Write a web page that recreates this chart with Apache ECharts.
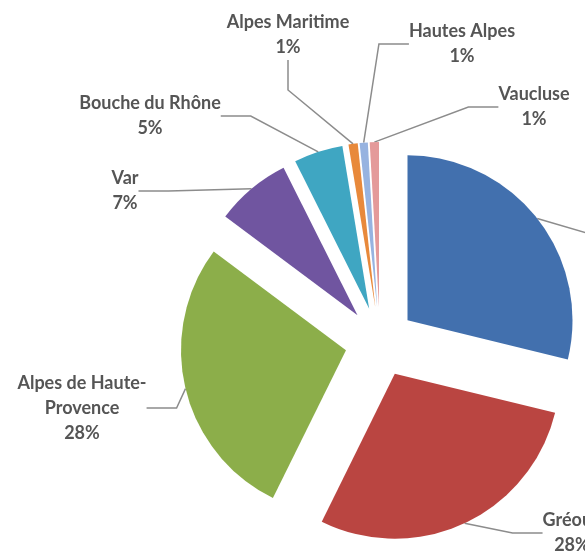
<!DOCTYPE html>
<html><head><meta charset="utf-8">
<script src="https://cdn.jsdelivr.net/npm/echarts@6/dist/echarts.min.js"></script>
<style>html,body{margin:0;padding:0;background:#fff;overflow:hidden}#c{width:585px;height:553px}</style>
</head><body><div id="c"></div>
<script>
// Slices clockwise from 12 o'clock (blue slice's label lies outside the picture)
const categories = ['Autres', 'Gréoux', 'Alpes de Haute-Provence', 'Var', 'Bouche du Rhône', 'Alpes Maritime', 'Hautes Alpes', 'Vaucluse'];
const values = [28.8, 28.5, 27.9, 7.4, 4.8, 0.9, 0.8, 0.9];
const colors = ['#4270AE', '#BA4541', '#8CAE4A', '#7055A0', '#3FA6C2', '#E8893B', '#97B3E0', '#E49A9A'];
// label centres (text only)
const labelAnchors = [[650, 235], [572, 533], [82, 408], [125, 191], [150, 116], [288, 35], [462, 44], [534, 107]];

const pieCenter = [380, 342];
const pieRadius = 165;
const explode = 35;

const total = values.reduce((a, b) => a + b, 0);
let acc = 0;
const series = categories.map((name, i) => {
  const start = 90 - acc / total * 360;
  const mid = (start - values[i] / total * 180) * Math.PI / 180;
  acc += values[i];
  const c = [pieCenter[0] + explode * Math.cos(mid), pieCenter[1] - explode * Math.sin(mid)];
  return {
    type: 'pie',
    silent: true,
    center: c,
    radius: pieRadius,
    startAngle: 90,
    clockwise: true,
    percentPrecision: 0,
    avoidLabelOverlap: false,
    emphasis: {disabled: true},
    itemStyle: {borderWidth: 0},
    data: categories.map((n, j) => ({
      name: n,
      value: values[j],
      itemStyle: {color: j === i ? colors[j] : 'rgba(0,0,0,0)'},
      label: {show: j === i},
      labelLine: {show: j === i}
    })),
    label: {
      fontFamily: 'Lato',
      fontWeight: 'bold',
      fontSize: 18,
      lineHeight: 25,
      color: '#555555',
      align: 'center',
      formatter: p => (p.name.length > 16 ? p.name.replace('-', '-\n') : p.name) + '\n' + p.percent + '%'
    },
    labelLine: {lineStyle: {color: '#8c8c8c', width: 1.5}},
    labelLayout: function (params) {
      const a = labelAnchors[params.dataIndex];
      return {x: a[0], y: a[1], align: 'center', verticalAlign: 'middle'};
    }
  };
});

const chart = echarts.init(document.getElementById('c'), null, {renderer: 'canvas'});
chart.setOption({animation: false, backgroundColor: '#fff', series: series});
</script></body></html>
